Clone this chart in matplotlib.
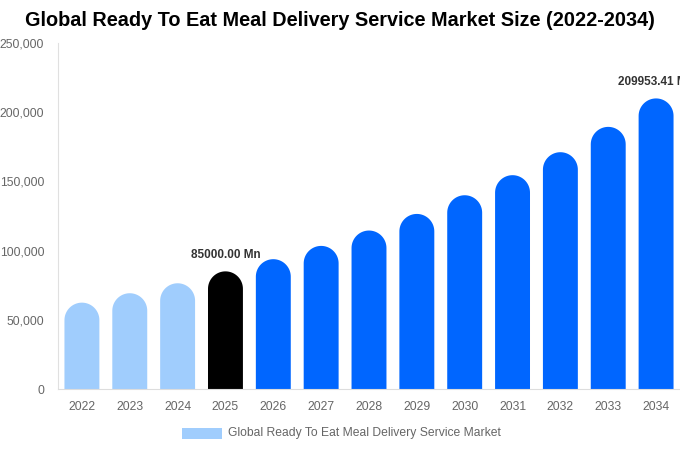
import numpy as np
import matplotlib.pyplot as plt
from matplotlib.patches import Rectangle, PathPatch
from matplotlib.path import Path
from matplotlib.ticker import FuncFormatter

plt.rcParams["font.family"] = ["Liberation Sans", "DejaVu Sans"]

years = ["2022", "2023", "2024", "2025", "2026", "2027", "2028",
         "2029", "2030", "2031", "2032", "2033", "2034"]
values = [62400, 69200, 76400, 85000, 93800, 103400, 114500,
          126500, 140000, 154500, 171100, 189400, 209953.41]
labelled = {"2025": "85000.00 Mn", "2034": "209953.41 Mn"}
series_name = "Global Ready To Eat Meal Delivery Service Market"

LIGHT = "#a0cdfd"
DARK = "#000000"
BLUE = "#0066ff"

fig = plt.figure(figsize=(6.8, 4.5), dpi=100)
ax = fig.add_axes([58 / 680, 1 - 389 / 450, 622 / 680, 346 / 450])
ax.set_xlim(-0.5, len(years) - 0.5)
ax.set_ylim(0, 250000)

# bar width ~35 px, round cap radius is half of that
width = 0.73
px_per_x = ax.transData.transform((1, 0))[0] - ax.transData.transform((0, 0))[0]
px_per_y = ax.transData.transform((0, 1))[1] - ax.transData.transform((0, 0))[1]
r_px = width * px_per_x / 2
r_y = r_px / px_per_y
theta = np.linspace(0, np.pi, 40)


def rounded_bar(x, h):
    hw = width / 2
    arc = np.column_stack([x + hw * np.cos(theta), h - r_y + r_y * np.sin(theta)])
    verts = np.vstack([[[x + hw, 0]], arc, [[x - hw, 0], [x + hw, 0]]])
    codes = [Path.MOVETO] + [Path.LINETO] * (len(verts) - 2) + [Path.CLOSEPOLY]
    return Path(verts, codes)


for i, (yr, v) in enumerate(zip(years, values)):
    if int(yr) < 2025:
        c = LIGHT
    elif yr == "2025":
        c = DARK
    else:
        c = BLUE
    ax.add_patch(PathPatch(rounded_bar(i, v), facecolor=c, edgecolor="none"))
    if yr in labelled:
        ax.text(i, v + 7500, labelled[yr], ha="center", va="bottom",
                fontsize=8.5, fontweight="bold", color="#333333", clip_on=False)

ax.set_xticks(range(len(years)))
ax.set_xticklabels(years)
ax.set_yticks(range(0, 250001, 50000))
ax.yaxis.set_major_formatter(FuncFormatter(lambda v, p: f"{int(v):,}"))
ax.tick_params(length=0, labelsize=8.7, colors="#666666")
ax.tick_params(axis="x", pad=9)
ax.tick_params(axis="y", pad=10)
for s in ["top", "right"]:
    ax.spines[s].set_visible(False)
ax.spines["left"].set_color("#e0e0e0")
ax.spines["bottom"].set_color("#dddddd")

fig.text(0.5, 1 - 21 / 450, "Global Ready To Eat Meal Delivery Service Market Size (2022-2034)",
         ha="center", va="center", fontsize=14.3, fontweight="bold", color="#000000")

fig.patches.append(Rectangle((182 / 680, 1 - 439 / 450), 40 / 680, 11 / 450,
                             transform=fig.transFigure, facecolor=LIGHT,
                             edgecolor="none"))
fig.text(228 / 680, 1 - 433 / 450, series_name, ha="left", va="center",
         fontsize=8.7, color="#666666")

fig.savefig("out.png", dpi=100)
